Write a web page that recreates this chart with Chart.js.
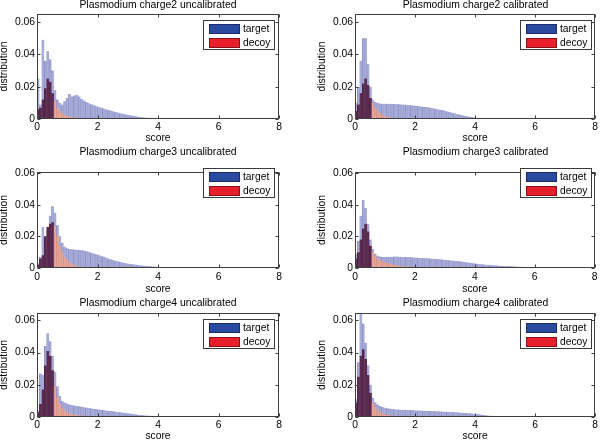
<!DOCTYPE html>
<html><head><meta charset="utf-8">
<script src="https://cdn.jsdelivr.net/npm/chart.js@4.4.1/dist/chart.umd.min.js"></script>
<style>
html,body{margin:0;padding:0;background:#fff;}
body{width:600px;height:441px;position:relative;overflow:hidden;font-family:"Liberation Sans",Arial,sans-serif;}
.panel{position:absolute;}
.ttl{position:absolute;font-size:10.4px;line-height:12px;white-space:nowrap;text-align:center;color:#000;}
.leg{position:absolute;width:72px;height:30px;border:1px solid #3a3a3a;background:#fff;box-sizing:border-box;}
.sw{position:absolute;left:5px;width:31px;height:10px;box-sizing:border-box;}
.lt{position:absolute;left:39px;font-size:10.3px;line-height:12px;color:#000;}
</style></head><body>
<script>
// ---------- data ----------
const binCenters = [0.04,0.12,0.2,0.28,0.36,0.44,0.52,0.6,0.68,0.76,0.84,0.92,1,1.08,1.16,1.24,1.32,1.4,1.48,1.56,
 1.64,1.72,1.8,1.88,1.96,2.04,2.12,2.2,2.28,2.36,2.44,2.52,2.6,2.68,2.76,2.84,2.92,3,3.08,3.16,
 3.24,3.32,3.4,3.48,3.56,3.64,3.72,3.8,3.88,3.96,4.04,4.12,4.2,4.28,4.36,4.44,4.52,4.6,4.68,4.76,
 4.84,4.92,5,5.08,5.16,5.24,5.32,5.4,5.48,5.56,5.64,5.72,5.8,5.88,5.96,6.04,6.12,6.2,6.28,6.36,
 6.44,6.52,6.6,6.68,6.76,6.84,6.92,7,7.08,7.16];
const xTickValues = [0,2,4,6,8];
const yTickValues = [0,0.02,0.04,0.06];
const seriesNames = ['target','decoy'];
const panelTitles = ['Plasmodium charge2 uncalibrated','Plasmodium charge2 calibrated',
  'Plasmodium charge3 uncalibrated','Plasmodium charge3 calibrated',
  'Plasmodium charge4 uncalibrated','Plasmodium charge4 calibrated'];
const xAxisTitle = 'score';
const yAxisTitle = 'distribution';

const target_c2_uncal = [.025,.009,.049,.036,.042,.037,.030,.018,.012,.010,.009,.011,.013,.0155,.014,.0145,.015,.014,.0125,.0115,
 .0105,.0098,.0092,.0086,.0081,.0076,.0071,.0066,.0061,.0056,.0052,.0048,.0044,.0040,.0036,.0032,.0029,.0026,.0023,.0020,
 .0018,.0015,.0013,.0011,.0009,.0008,.0007,.0006,.0005,.0004,.0004,.0003,.0003,.0002,.0002,.0001,.0001];
const decoy_c2_uncal = [.006,.007,.012,.019,.025,.023,.016,.011,.007,.005,.0035,.0025,.0018,.0014,.0011,.0009,.0008,.0007,.0006,.0005,
 .0004,.0004,.0003,.0003,.0002,.0002];

const target_c2_cal = [.010,.020,.036,.050,.050,.034,.020,.012,.0105,.0100,.0096,.0095,.0095,.0094,.0094,.0093,.0093,.0092,.0091,.0090,
 .0089,.0088,.0087,.0085,.0084,.0082,.0080,.0078,.0076,.0074,.0072,.0070,.0067,.0064,.0061,.0058,.0055,.0051,.0047,.0043,
 .0039,.0035,.0031,.0028,.0024,.0021,.0018,.0015,.0012,.0010,.0008,.0007,.0006,.0005,.0004,.0004,.0003,.0003,.0002,.0002,
 .0002,.0001,.0001,.0001,.0001,.0001,.0001,.0001,.0001,.0001,.0001];
const decoy_c2_cal = [.005,.009,.016,.022,.025,.021,.013,.010,.007,.005,.0035,.0025,.0018,.0013,.0010,.0008,.0007,.0006,.0005,.0004,
 .0004,.0003,.0003,.0002,.0002,.0002];

const target_c3_uncal = [.003,.007,.026,.014,.024,.033,.039,.035,.027,.020,.016,.0135,.0125,.012,.0118,.0117,.0116,.0115,.0113,.011,
 .0106,.0102,.0097,.0092,.0087,.0082,.0077,.0072,.0066,.0060,.0055,.0050,.0046,.0042,.0038,.0034,.0031,.0028,.0026,.0024,
 .0022,.0020,.0018,.0016,.0014,.0013,.0011,.0010,.0009,.0008,.0007,.0006,.0005,.0004,.0004,.0003,.0003,.0002,.0002,.0002,
 .0001,.0001];
const decoy_c3_uncal = [.002,.006,.008,.020,.026,.028,.029,.026,.020,.014,.010,.007,.005,.0035,.0025,.0018,.0013,.0010,.0008,.0006,
 .0005,.0004,.0003,.0003,.0002,.0002,.0001];

const target_c3_cal = [.009,.017,.033,.043,.038,.028,.018,.012,.009,.0078,.0073,.0071,.0070,.0070,.0071,.0071,.0072,.0072,.0071,.0071,
 .0070,.0070,.0069,.0068,.0067,.0066,.0065,.0064,.0063,.0062,.0061,.0060,.0059,.0058,.0057,.0056,.0054,.0052,.0050,.0049,
 .0047,.0046,.0044,.0043,.0041,.0039,.0037,.0035,.0033,.0030,.0028,.0026,.0024,.0023,.0021,.0020,.0019,.0018,.0017,.0016,
 .0015,.0014,.0013,.0012,.0012,.0011,.0010,.0009,.0008,.0008,.0007,.0006,.0006,.0005,.0005,.0004,.0004,.0003,.0003,.0003,
 .0002,.0002,.0002,.0002,.0001,.0001,.0001,.0001,.0001,.0001];
const decoy_c3_cal = [.006,.010,.018,.025,.028,.023,.014,.010,.0075,.006,.005,.0042,.0036,.0031,.0027,.0023,.0020,.0017,.0015,.0013,
 .0011,.0010,.0009,.0008,.0008,.0007,.0006,.0006,.0005,.0005,.0004,.0004,.0003,.0003,.0003,.0002];

const target_c4_uncal = [.004,.027,.026,.044,.052,.047,.038,.028,.019,.013,.010,.009,.0083,.0078,.0074,.0071,.0068,.0066,.0063,.0061,
 .0058,.0056,.0053,.0051,.0049,.0047,.0045,.0043,.0041,.0039,.0037,.0035,.0033,.0031,.0029,.0027,.0025,.0023,.0021,.0019,
 .0017,.0015,.0013,.0012,.0010,.0009,.0008,.0007,.0006,.0005,.0004,.0004,.0003,.0003,.0002,.0002,.0002,.0001,.0001,.0001,
 .0001];
const decoy_c4_uncal = [.003,.008,.017,.032,.041,.038,.029,.019,.012,.008,.0055,.004,.003,.0023,.0018,.0014,.0012,.001,.0009,.0008,
 .0007,.0006,.0005,.0004,.0004,.0003,.0003,.0002,.0002];

const target_c4_cal = [.011,.034,.064,.058,.046,.032,.020,.012,.0092,.0078,.0068,.0062,.0058,.0055,.0052,.0050,.0048,.0047,.0046,.0045,
 .0045,.0044,.0043,.0043,.0042,.0041,.0041,.0040,.0039,.0039,.0038,.0037,.0037,.0036,.0035,.0034,.0034,.0033,.0032,.0031,
 .0031,.0030,.0029,.0028,.0027,.0026,.0025,.0023,.0022,.0020,.0019,.0017,.0015,.0013,.0011,.0009,.0008,.0007,.0006,.0005,
 .0005,.0004,.0004,.0003,.0003,.0003,.0002,.0002,.0002,.0002,.0001,.0001,.0001,.0001,.0001,.0001,.0001,.0001];
const decoy_c4_cal = [.009,.025,.038,.042,.036,.026,.015,.009,.006,.0042,.0030,.0022,.0017,.0013,.0011,.0009,.0008,.0007,.0006,.0005,
 .0004,.0004,.0003,.0003,.0002];

const panelSeries = [
  [target_c2_uncal, decoy_c2_uncal], [target_c2_cal, decoy_c2_cal],
  [target_c3_uncal, decoy_c3_uncal], [target_c3_cal, decoy_c3_cal],
  [target_c4_uncal, decoy_c4_uncal], [target_c4_cal, decoy_c4_cal]
];

// ---------- layout / style ----------
const FONT = '"Liberation Sans", Arial, sans-serif';
Chart.defaults.font.family = FONT;
const cols = [
  {x:0,   plotL:37, plotR:279, legL:203, yTitlePad:-1.7},
  {x:300, plotL:55, plotR:296, legL:220, yTitlePad:16}
];
const rows = [
  {top:0,   h:145, plotT:14, plotB:119, yMax:0.065,  titleTop:-1.5, legTop:19.5, xTitlePad:1,  tickPad:2},
  {top:145, h:147, plotT:27, plotB:123, yMax:0.0607, titleTop:1,    legTop:22.5, xTitlePad:-3, tickPad:2.5},
  {top:292, h:149, plotT:21, plotB:125, yMax:0.0645, titleTop:4.7,  legTop:26.5, xTitlePad:-1, tickPad:2}
];
const targetFill = '#a6abd8';
const targetEdge = '#6f77b4';
const decoyDark = '#5e2b50';
const decoyDarkEdge = '#3e1a38';
const decoyLight = '#e6a595';
const decoyLightEdge = '#cf8472';

const framePlugin = {
  id:'frame',
  afterDraw(chart){
    const {ctx, chartArea:a, scales:{x, y}} = chart;
    ctx.save();
    ctx.strokeStyle = '#3e3e3e'; ctx.lineWidth = 1;
    const L = Math.round(a.left)+0.5, R = Math.round(a.right)-0.5, T = Math.round(a.top)+0.5, B = Math.round(a.bottom)-0.5;
    ctx.strokeRect(L, T, R-L, B-T);
    ctx.beginPath();
    xTickValues.forEach(v => {
      const px = Math.round(x.getPixelForValue(v))+0.5;
      ctx.moveTo(px, B); ctx.lineTo(px, B-3);
      ctx.moveTo(px, T); ctx.lineTo(px, T+3);
    });
    yTickValues.forEach(v => {
      const py = Math.round(y.getPixelForValue(v))+0.5;
      ctx.moveTo(L, py); ctx.lineTo(L+3, py);
      ctx.moveTo(R, py); ctx.lineTo(R-3, py);
    });
    ctx.stroke();
    ctx.restore();
  }
};

panelSeries.forEach((pair, idx) => {
  const col = cols[idx % 2], row = rows[Math.floor(idx / 2)];
  const div = document.createElement('div');
  div.className = 'panel';
  div.style.left = col.x + 'px'; div.style.top = row.top + 'px';
  div.style.width = '300px'; div.style.height = row.h + 'px';
  const cv = document.createElement('canvas');
  cv.width = 300; cv.height = row.h;
  cv.style.width = '300px'; cv.style.height = row.h + 'px';
  div.appendChild(cv);
  const t = document.createElement('div');
  t.className = 'ttl';
  t.textContent = panelTitles[idx];
  t.style.left = col.plotL + 'px'; t.style.width = (col.plotR - col.plotL) + 'px';
  t.style.top = row.titleTop + 'px';
  div.appendChild(t);
  const lg = document.createElement('div');
  lg.className = 'leg';
  lg.style.left = col.legL + 'px'; lg.style.top = row.legTop + 'px';
  [['#2a4a9f','#1a2a6a',3],['#e8202b','#8a1015',17]].forEach((c, k) => {
    const sw = document.createElement('div');
    sw.className = 'sw';
    sw.style.top = c[2] + 'px'; sw.style.background = c[0]; sw.style.border = '1px solid ' + c[1];
    lg.appendChild(sw);
    const lt = document.createElement('div');
    lt.className = 'lt';
    lt.style.top = (c[2] - 1) + 'px';
    lt.textContent = seriesNames[k];
    lg.appendChild(lt);
  });
  div.appendChild(lg);
  document.body.appendChild(div);

  const [tgt, dec] = pair;
  const isDark = ctx => ctx.raw && ctx.raw.x < 0.56;
  new Chart(cv, {
    type: 'bar',
    data: {
      datasets: [
        {label: seriesNames[0], data: tgt.map((v, i) => ({x: binCenters[i], y: v})),
         backgroundColor: targetFill, borderColor: targetEdge,
         borderWidth: {left: 0.5, right: 0, top: 0, bottom: 0}, borderSkipped: false,
         grouped: false, order: 2, barPercentage: 1, categoryPercentage: 1},
        {label: seriesNames[1], data: dec.map((v, i) => ({x: binCenters[i], y: v})),
         backgroundColor: ctx => isDark(ctx) ? decoyDark : decoyLight,
         borderColor: ctx => isDark(ctx) ? decoyDarkEdge : decoyLightEdge,
         borderWidth: {left: 0.5, right: 0, top: 0, bottom: 0}, borderSkipped: false,
         grouped: false, order: 1, barPercentage: 1, categoryPercentage: 1}
      ]
    },
    options: {
      responsive: false, animation: false, devicePixelRatio: 1,
      layout: {autoPadding: false, padding: {top: row.plotT, right: 300 - col.plotR, bottom: 0, left: 0}},
      plugins: {legend: {display: false}, tooltip: {enabled: false}, title: {display: false}},
      scales: {
        x: {
          type: 'linear', min: 0, max: 8, offset: false,
          grid: {display: false, drawTicks: false}, border: {display: false},
          afterBuildTicks: s => { s.ticks = xTickValues.map(v => ({value: v})); },
          afterFit: s => { s.height = row.h - row.plotB; },
          ticks: {padding: row.tickPad, font: {size: 10.3}, color: '#000', maxRotation: 0, autoSkip: false,
                  callback: v => String(v)},
          title: {display: true, text: xAxisTitle, font: {size: 10.3}, color: '#000',
                  padding: {top: 0, bottom: row.xTitlePad}}
        },
        y: {
          type: 'linear', min: 0, max: row.yMax,
          grid: {display: false, drawTicks: false}, border: {display: false},
          afterBuildTicks: s => { s.ticks = yTickValues.map(v => ({value: v})); },
          afterFit: s => { s.width = col.plotL; },
          ticks: {padding: 2, font: {size: 10.3}, color: '#000',
                  callback: v => v === 0 ? '0' : Number(v).toFixed(2)},
          title: {display: true, text: yAxisTitle, font: {size: 10.3}, color: '#000',
                  padding: {top: col.yTitlePad, bottom: 0}}
        }
      }
    },
    plugins: [framePlugin]
  });
});
</script>
</body></html>
